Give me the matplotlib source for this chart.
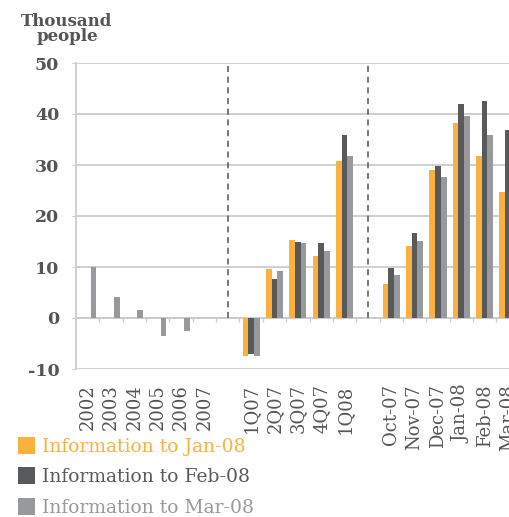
import numpy as np
import matplotlib
matplotlib.use("Agg")
import matplotlib.pyplot as plt

# categories (empty strings are the spacer slots between the three blocks)
categories = ["2002", "2003", "2004", "2005", "2006", "2007", "",
              "1Q07", "2Q07", "3Q07", "4Q07", "1Q08", "",
              "Oct-07", "Nov-07", "Dec-07", "Jan-08", "Feb-08", "Mar-08"]

nan = np.nan
info_jan = [nan, nan, nan, nan, nan, nan, nan,
            -7.4, 9.6, 15.3, 12.2, 30.8, nan,
            6.7, 14.1, 29.0, 38.2, 31.8, 24.7]
info_feb = [nan, nan, nan, nan, nan, nan, nan,
            -7.1, 7.6, 15.0, 14.7, 35.9, nan,
            9.8, 16.7, 29.8, 42.0, 42.5, 36.9]
info_mar = [10.0, 4.2, 1.6, -3.5, -2.5, 0.0, nan,
            -7.4, 9.2, 14.8, 13.1, 31.8, nan,
            8.4, 15.1, 27.6, 39.6, 35.9, nan]

series_names = ["Information to Jan-08", "Information to Feb-08", "Information to Mar-08"]
colors = ["#FBB040", "#58595B", "#98999C"]

TEXT = "#555555"
GRID = "#CCCCCC"

plt.rcParams["font.family"] = ["DejaVu Serif"]
plt.rcParams["axes.unicode_minus"] = False

fig = plt.figure(figsize=(5.10, 5.17), dpi=100)
# axes runs past the right edge on purpose, the reference is cropped there
ax = fig.add_axes([76 / 510, 148 / 517, 19 * 23.35 / 510, 306 / 517])

x = np.arange(len(categories))
w = 0.245
bars = []
for k, (vals, col) in enumerate(zip([info_jan, info_feb, info_mar], colors)):
    b = ax.bar(x + (k - 1) * w, vals, w, color=col, zorder=3)
    bars.append(b)

ax.set_xlim(-0.5, len(categories) - 0.5)
ax.set_ylim(-10, 50)
ax.set_yticks(range(-10, 51, 10))
ax.yaxis.grid(True, color=GRID, linewidth=1.3, zorder=0)
ax.set_axisbelow(True)

for s in ["top", "right", "bottom"]:
    ax.spines[s].set_visible(False)
ax.spines["left"].set_color(GRID)
ax.spines["left"].set_linewidth(1.3)

# zero line with small ticks at slot boundaries
ax.axhline(0, color=GRID, linewidth=1.3, zorder=1)
bounds = x[:-1] + 0.5
ax.vlines(bounds, -0.7, 0, color=GRID, linewidth=1.0, zorder=1)

# dashed separators in the spacer slots
for i, c in enumerate(categories):
    if c == "":
        ax.vlines(i, 0, 50, color="#555555", linestyles=(0, (4, 3)), linewidth=1.1, zorder=2)

ax.set_xticks(x)
ax.set_xticklabels(categories, rotation=90, color=TEXT, fontsize=13)
ax.tick_params(axis="x", length=0, pad=11)
ax.tick_params(axis="y", length=3, color=GRID, pad=9, labelsize=12.5, labelcolor=TEXT)
for t in ax.get_yticklabels():
    t.set_fontweight("bold")

fig.text(67 / 510, 1 - 29 / 517, "Thousand\npeople", ha="center", va="center",
         fontsize=12, fontweight="bold", color=TEXT, linespacing=0.85)

leg = ax.legend(bars, series_names, loc="upper left", bbox_to_anchor=(18 / 510, 1 - 437 / 517),
                bbox_transform=fig.transFigure, frameon=False, fontsize=13.5,
                handlelength=0.9, handleheight=1.0, handletextpad=0.4,
                labelspacing=0.62, labelcolor=colors, borderpad=0, borderaxespad=0)

fig.savefig("out.png", dpi=100)
